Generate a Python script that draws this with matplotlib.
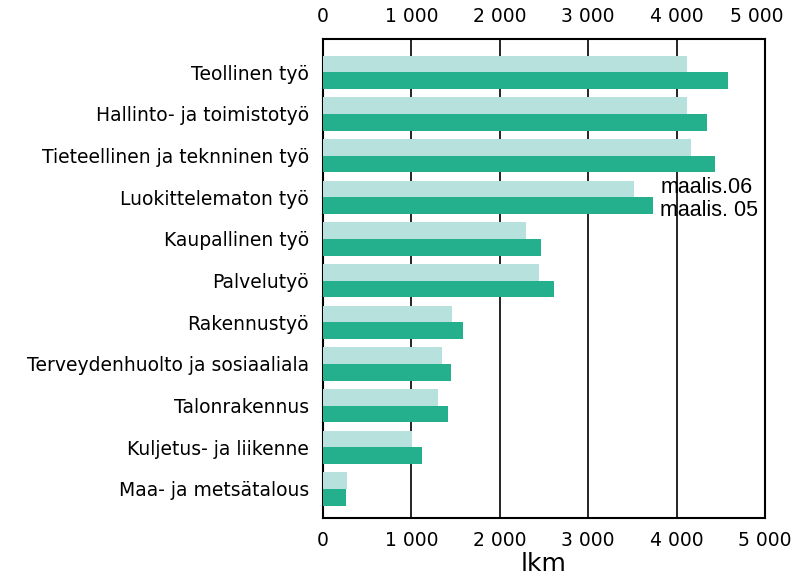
import matplotlib.pyplot as plt
import matplotlib.transforms as mtransforms
import numpy as np
from matplotlib.ticker import FuncFormatter

# ammattiryhmät ylhäältä alas
categories = ["Teollinen työ", "Hallinto- ja toimistotyö", "Tieteellinen ja teknninen työ",
              "Luokittelematon työ", "Kaupallinen työ", "Palvelutyö", "Rakennustyö",
              "Terveydenhuolto ja sosiaaliala", "Talonrakennus", "Kuljetus- ja liikenne",
              "Maa- ja metsätalous"]
maalis06 = [4120, 4115, 4165, 3520, 2300, 2440, 1465, 1345, 1300, 1005, 270]
maalis05 = [4580, 4345, 4440, 3735, 2470, 2610, 1585, 1450, 1410, 1120, 260]
ticks = [0, 1000, 2000, 3000, 4000, 5000]

fig = plt.figure(figsize=(8.01, 5.81), dpi=100)
ax = fig.add_axes([0.4032, 0.1084, 0.5518, 0.8245])

y = np.arange(len(categories))
h = 0.4
b1 = ax.barh(y - h / 2, maalis06, height=h, color='#b7e1dc', label='maalis.06', zorder=3)
b2 = ax.barh(y + h / 2, maalis05, height=h, color='#24b08c', label='maalis. 05', zorder=3)

ax.set_xlim(0, 5000)
ax.set_ylim(10.7, -0.8)
ax.set_xticks(ticks)
ax.xaxis.set_major_formatter(FuncFormatter(lambda v, p: f"{int(v):,}".replace(",", " ")))
ax.tick_params(axis='x', top=True, labeltop=True, length=0, labelsize=13.5, pad=9)
ax.set_yticks(y)
ax.set_yticklabels(categories, fontsize=13.5)
ax.tick_params(axis='y', length=4, direction='in', pad=10)
ax.grid(axis='x', color='black', linewidth=1.2, zorder=1)
for s in ax.spines.values():
    s.set_linewidth(1.5)

# ylälaidan viimeinen luku hieman vasemmalle
fig.canvas.draw()
lab = ax.xaxis.get_major_ticks()[-1].label2
lab.set_transform(lab.get_transform() + mtransforms.ScaledTranslation(-0.08, 0, fig.dpi_scale_trans))

ax.set_xlabel('lkm', fontsize=18, labelpad=2)

leg = ax.legend(handles=[b1, b2], loc='upper left', bbox_to_anchor=(0.739, 0.735),
                frameon=False, handlelength=0, handletextpad=0, labelspacing=0.1,
                prop={'family': 'Liberation Sans', 'size': 15.5}, borderpad=0)
for hnd in leg.legend_handles:
    hnd.set_visible(False)

plt.savefig('out.png', dpi=100)
